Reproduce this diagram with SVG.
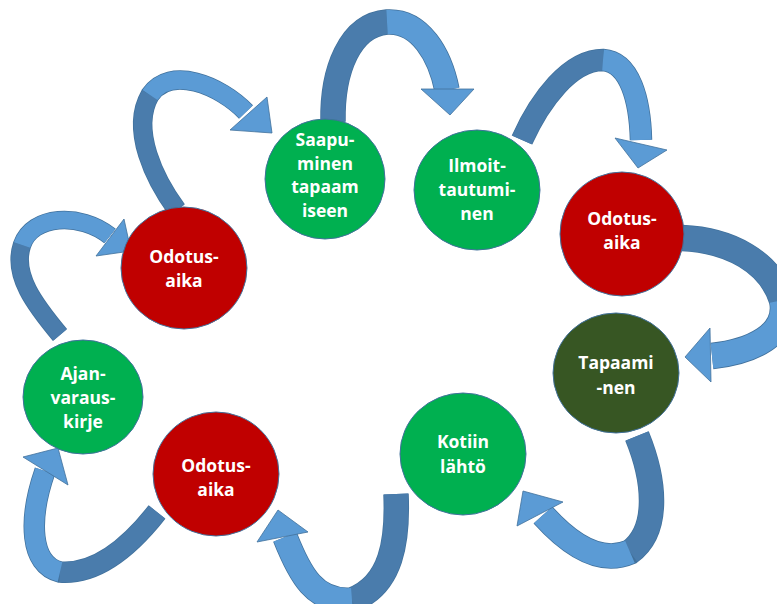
<svg xmlns="http://www.w3.org/2000/svg" width="777" height="604" viewBox="0 0 777 604">
<style>
.bg{fill:#ffffff}
.node{stroke:#41719C;stroke-width:1}
.red{fill:#C00000}
.green{fill:#00B050}
.dgreen{fill:#375623}
.lbl{font-family:"Open Sans","Liberation Sans",sans-serif;font-weight:bold;font-size:17.5px;fill:#ffffff;text-anchor:middle}
.edge{fill:none;stroke:#41719C;stroke-linecap:butt}
.dk{fill:none;stroke:#4A7CAC;stroke-linecap:butt}
.lt{fill:none;stroke:#5B9BD5;stroke-linecap:butt}
.head{fill:#5B9BD5;stroke:#41719C;stroke-width:0.8;stroke-linejoin:miter}
</style>
<rect class="bg" x="0" y="0" width="777" height="604"/>
<g id="connectors">
  <g id="arrow-a">
    <path class="edge" stroke-width="18.5" d="M60,335 C35,305 12,275 22,245 C32,215 80,212 110,236"/>
    <path class="dk" stroke-width="17" d="M60,335 C35,305 12,275 22,245"/>
    <path class="lt" stroke-width="17" d="M22,245 C32,215 80,212 110,236"/>
    <polygon class="head" points="124,219 96,256 131,251"/>
  </g>
  <g id="arrow-b">
    <path class="edge" stroke-width="19.5" d="M177,210 C155,180 130,130 150,95 C170,65 220,85 246,112"/>
    <path class="dk" stroke-width="18" d="M177,210 C155,180 130,130 150,95"/>
    <path class="lt" stroke-width="18" d="M150,95 C170,65 220,85 246,112"/>
    <polygon class="head" points="267,97 230,130 272,133"/>
  </g>
  <g id="arrow-c">
    <path class="edge" stroke-width="25.5" d="M333,122 C332,70 350,25 387,22 C420,20 440,55 447,90"/>
    <path class="dk" stroke-width="24" d="M333,122 C332,70 350,25 387,22"/>
    <path class="lt" stroke-width="24" d="M387,22 C420,20 440,55 447,90"/>
    <polygon class="head" points="421,89 474,89 450,115"/>
  </g>
  <g id="arrow-d">
    <path class="edge" stroke-width="22.5" d="M522,140 C540,100 570,60 603,60 C630,62 640,100 641,140"/>
    <path class="dk" stroke-width="21" d="M522,140 C540,100 570,60 603,60"/>
    <path class="lt" stroke-width="21" d="M603,60 C630,62 640,100 641,140"/>
    <polygon class="head" points="615,138 667,150 638,168"/>
  </g>
  <g id="arrow-e">
    <path class="edge" stroke-width="26.5" d="M682,238 C730,240 770,262 782,300 C790,335 750,352 712,356"/>
    <path class="dk" stroke-width="25" d="M682,238 C730,240 770,262 782,300"/>
    <path class="lt" stroke-width="25" d="M782,300 C790,335 750,352 712,356"/>
    <polygon class="head" points="710,328 711,382 685,357"/>
  </g>
  <g id="arrow-f">
    <path class="edge" stroke-width="25.5" d="M637,436 C655,480 660,530 630,552 C600,565 570,545 543,515"/>
    <path class="dk" stroke-width="24" d="M637,436 C655,480 660,530 630,552"/>
    <path class="lt" stroke-width="24" d="M630,552 C600,565 570,545 543,515"/>
    <polygon class="head" points="563,502 517,526 523,491"/>
  </g>
  <g id="arrow-g">
    <path class="edge" stroke-width="25.5" d="M396,494 C398,540 392,585 352,600 C315,603 300,575 285,537"/>
    <path class="dk" stroke-width="24" d="M396,494 C398,540 392,585 352,600"/>
    <path class="lt" stroke-width="24" d="M352,600 C315,603 300,575 285,537"/>
    <polygon class="head" points="308,532 257,542 278,510"/>
  </g>
  <g id="arrow-h">
    <path class="edge" stroke-width="21.5" d="M157,512 C135,540 100,575 60,572 C30,565 28,520 45,471"/>
    <path class="dk" stroke-width="20" d="M157,512 C135,540 100,575 60,572"/>
    <path class="lt" stroke-width="20" d="M60,572 C30,565 28,520 45,471"/>
    <polygon class="head" points="23,457 68,485 58,448"/>
  </g>
</g>
<g id="n-odotus1">
  <ellipse class="node red" cx="184" cy="268" rx="63" ry="61"/>
  <text class="lbl" x="184" y="263">Odotus-</text>
  <text class="lbl" x="184" y="287">aika</text>
</g>
<g id="n-saapuminen">
  <ellipse class="node green" cx="325" cy="179" rx="60" ry="60"/>
  <text class="lbl" x="325" y="146">Saapu-</text>
  <text class="lbl" x="325" y="170">minen</text>
  <text class="lbl" x="325" y="193">tapaam</text>
  <text class="lbl" x="325" y="217">iseen</text>
</g>
<g id="n-ilmoittautuminen">
  <ellipse class="node green" cx="477" cy="190" rx="63" ry="60"/>
  <text class="lbl" x="477" y="172">Ilmoit-</text>
  <text class="lbl" x="477" y="196">tautumi-</text>
  <text class="lbl" x="477" y="220">nen</text>
</g>
<g id="n-odotus2">
  <ellipse class="node red" cx="622" cy="234" rx="62" ry="62"/>
  <text class="lbl" x="622" y="225">Odotus-</text>
  <text class="lbl" x="622" y="249">aika</text>
</g>
<g id="n-tapaaminen">
  <ellipse class="node dgreen" cx="616" cy="373" rx="63" ry="60"/>
  <text class="lbl" x="616" y="369">Tapaami</text>
  <text class="lbl" x="616" y="394">-nen</text>
</g>
<g id="n-kotiin">
  <ellipse class="node green" cx="463" cy="454" rx="63" ry="61"/>
  <text class="lbl" x="463" y="448">Kotiin</text>
  <text class="lbl" x="463" y="473">lähtö</text>
</g>
<g id="n-odotus3">
  <ellipse class="node red" cx="216" cy="474" rx="63" ry="62"/>
  <text class="lbl" x="216" y="472">Odotus-</text>
  <text class="lbl" x="216" y="496">aika</text>
</g>
<g id="n-ajanvaraus">
  <ellipse class="node green" cx="83" cy="397" rx="60" ry="57"/>
  <text class="lbl" x="83" y="380">Ajan-</text>
  <text class="lbl" x="83" y="404">varaus-</text>
  <text class="lbl" x="83" y="428">kirje</text>
</g>
</svg>
